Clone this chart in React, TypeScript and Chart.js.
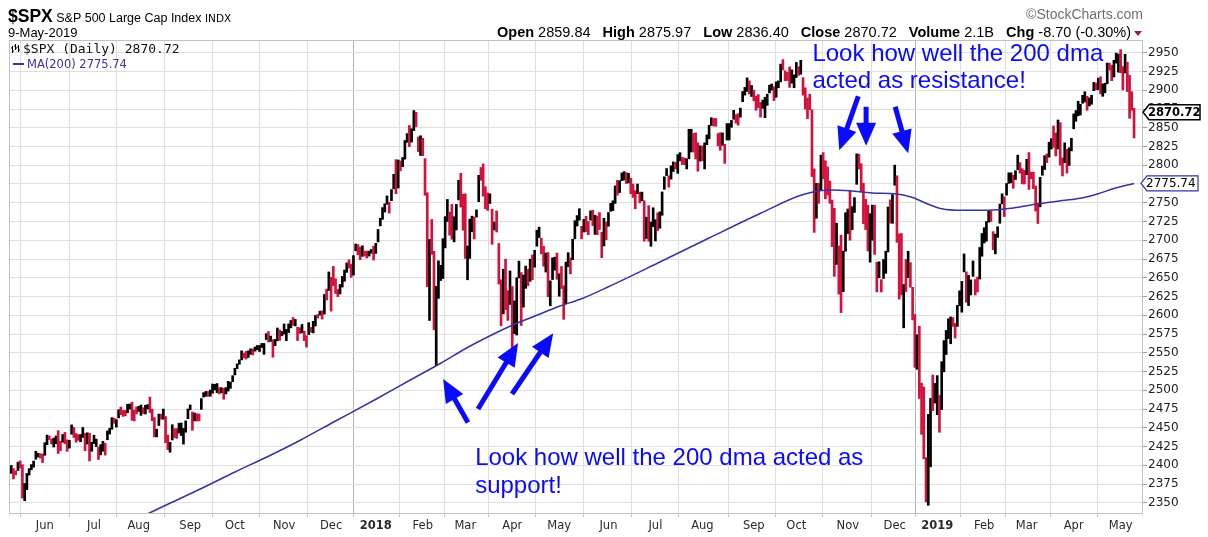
import React, { useEffect, useRef } from 'react';
import { Chart, registerables } from 'chart.js';

Chart.register(...registerables);

// ---------------- data ----------------
// trading days per month, May-2017 (partial) .. May-2019 (partial)
const monthLengths = [15, 22, 20, 23, 20, 22, 21, 20, 21, 19, 21, 21, 22, 21, 21, 23, 19, 23, 21, 19, 21, 19, 21, 21, 7];
const monthTickLabels = ['Jun', 'Jul', 'Aug', 'Sep', 'Oct', 'Nov', 'Dec', '2018', 'Feb', 'Mar', 'Apr', 'May', 'Jun', 'Jul', 'Aug', 'Sep', 'Oct', 'Nov', 'Dec', '2019', 'Feb', 'Mar', 'Apr', 'May'];
const yTickValues = [2350, 2375, 2400, 2425, 2450, 2475, 2500, 2525, 2550, 2575, 2600, 2625, 2650, 2675, 2700, 2725, 2750, 2775, 2800, 2825, 2850, 2875, 2900, 2925, 2950];

const closes = [
  2399.6, 2394.4, 2390.9, 2402.3, 2400.7, 2357.0, 2365.7, 2381.7, 2394.0, 2398.4, 2404.4, 2415.1, 2415.8, 2412.9, 2411.8,
  2430.1, 2439.1, 2436.1, 2429.3, 2433.1, 2433.8, 2431.8, 2429.4, 2440.4, 2437.9, 2432.5, 2433.2, 2453.5, 2437.0, 2435.6, 2434.5, 2438.3, 2439.1, 2419.4, 2440.7, 2419.7, 2423.4,
  2429.0, 2432.5, 2409.8, 2425.2, 2427.4, 2425.5, 2443.3, 2447.8, 2459.3, 2459.1, 2460.6, 2473.8, 2473.5, 2472.5, 2469.9, 2477.1, 2477.8, 2475.4, 2472.1, 2470.3,
  2476.3, 2477.6, 2472.2, 2476.8, 2480.9, 2474.9, 2474.0, 2438.2, 2441.3, 2466.0, 2464.6, 2468.1, 2430.0, 2425.6, 2428.4, 2452.5, 2444.0, 2438.9, 2443.1, 2444.2, 2446.3, 2457.6, 2471.7,
  2476.6, 2457.9, 2465.5, 2465.1, 2461.4, 2488.1, 2496.5, 2498.4, 2495.6, 2500.2, 2503.9, 2506.7, 2508.2, 2500.6, 2502.2, 2496.7, 2496.8, 2507.0, 2510.1, 2519.4,
  2529.1, 2534.6, 2537.7, 2552.1, 2549.3, 2544.7, 2550.6, 2555.2, 2550.9, 2553.2, 2557.6, 2559.4, 2561.3, 2562.1, 2575.2, 2565.0, 2569.1, 2557.2, 2560.4, 2581.1, 2572.8, 2575.3,
  2579.4, 2579.9, 2587.8, 2591.1, 2590.6, 2594.4, 2584.6, 2582.3, 2584.8, 2578.9, 2564.6, 2585.6, 2578.9, 2582.1, 2599.0, 2597.1, 2602.4, 2601.4, 2627.0, 2626.1, 2647.6,
  2642.2, 2639.4, 2629.6, 2629.3, 2637.0, 2651.5, 2660.0, 2664.1, 2662.9, 2652.0, 2675.8, 2690.2, 2681.5, 2679.3, 2684.6, 2683.3, 2680.5, 2682.6, 2687.5, 2673.6,
  2695.8, 2713.1, 2724.0, 2743.2, 2747.7, 2751.3, 2748.2, 2767.6, 2786.2, 2776.4, 2802.6, 2798.0, 2810.3, 2833.0, 2839.1, 2837.5, 2839.3, 2872.9, 2853.5, 2822.4, 2823.8,
  2822.0, 2762.1, 2648.9, 2695.1, 2681.7, 2581.0, 2619.6, 2656.0, 2662.9, 2698.6, 2731.2, 2732.2, 2716.3, 2701.3, 2704.0, 2747.3, 2779.6, 2744.3, 2713.8,
  2677.7, 2691.3, 2720.9, 2728.1, 2726.8, 2739.0, 2786.6, 2783.0, 2765.3, 2749.5, 2747.3, 2752.0, 2712.9, 2716.9, 2711.9, 2643.7, 2588.3, 2658.6, 2612.6, 2605.0, 2640.9,
  2581.9, 2614.5, 2644.7, 2662.8, 2604.5, 2613.2, 2656.9, 2642.2, 2664.0, 2656.3, 2677.8, 2706.4, 2708.6, 2693.1, 2670.1, 2670.3, 2634.6, 2639.4, 2666.9, 2669.9, 2648.1,
  2654.8, 2635.7, 2629.7, 2663.4, 2672.6, 2671.9, 2697.8, 2723.1, 2727.7, 2730.1, 2711.5, 2722.5, 2720.1, 2713.0, 2733.0, 2724.4, 2733.3, 2727.8, 2721.3, 2689.9, 2724.0, 2705.3,
  2734.6, 2746.9, 2748.8, 2772.4, 2770.4, 2779.0, 2782.0, 2786.9, 2775.6, 2782.5, 2779.7, 2773.9, 2762.6, 2767.3, 2749.8, 2754.9, 2717.1, 2723.1, 2699.6, 2716.3, 2718.4,
  2726.7, 2713.2, 2736.6, 2759.8, 2784.2, 2793.8, 2774.0, 2798.3, 2801.3, 2798.4, 2809.6, 2815.6, 2804.5, 2801.8, 2807.0, 2820.4, 2846.1, 2837.4, 2818.8, 2802.6, 2816.3,
  2813.4, 2827.2, 2840.4, 2850.4, 2858.5, 2857.7, 2853.6, 2833.3, 2821.9, 2840.0, 2818.4, 2840.7, 2850.1, 2857.1, 2863.0, 2861.8, 2857.0, 2874.7, 2896.7, 2897.5, 2914.0, 2901.1, 2901.5,
  2896.7, 2888.6, 2878.1, 2871.7, 2877.1, 2887.9, 2888.9, 2904.2, 2905.0, 2888.8, 2904.3, 2908.0, 2930.8, 2929.7, 2919.4, 2915.6, 2906.0, 2914.0, 2914.0,
  2924.6, 2923.4, 2925.5, 2901.6, 2885.6, 2884.4, 2880.3, 2785.7, 2728.4, 2767.1, 2750.8, 2809.9, 2809.2, 2768.8, 2767.8, 2755.9, 2740.7, 2656.1, 2705.6, 2658.7, 2641.3, 2682.6, 2711.7,
  2740.4, 2723.1, 2738.3, 2755.5, 2813.9, 2806.8, 2781.0, 2726.2, 2722.2, 2701.6, 2730.2, 2736.3, 2690.7, 2641.9, 2649.9, 2632.6, 2673.5, 2682.2, 2743.8, 2737.8, 2760.2,
  2790.4, 2700.1, 2696.0, 2633.1, 2637.7, 2636.8, 2651.1, 2650.5, 2600.0, 2545.9, 2546.2, 2507.0, 2467.4, 2416.6, 2351.1, 2467.7, 2488.8, 2485.7, 2506.9,
  2510.0, 2447.9, 2531.9, 2549.7, 2574.4, 2585.0, 2596.6, 2596.3, 2582.6, 2610.3, 2616.1, 2636.0, 2670.7, 2632.9, 2638.7, 2642.3, 2664.8, 2643.9, 2640.0, 2681.1, 2704.1,
  2706.5, 2724.9, 2737.7, 2731.6, 2706.1, 2707.9, 2709.8, 2744.7, 2753.0, 2745.7, 2775.6, 2779.8, 2784.7, 2774.9, 2792.7, 2796.1, 2793.9, 2792.4, 2784.5,
  2803.7, 2792.8, 2789.7, 2771.5, 2748.9, 2743.1, 2783.3, 2791.5, 2810.9, 2808.5, 2822.5, 2832.9, 2832.6, 2824.2, 2854.9, 2800.7, 2798.4, 2818.5, 2805.4, 2815.4, 2834.4,
  2867.2, 2867.2, 2873.4, 2879.4, 2892.7, 2895.8, 2878.2, 2888.2, 2888.3, 2907.4, 2905.6, 2907.1, 2900.5, 2905.0, 2908.0, 2933.7, 2927.3, 2926.2, 2939.9, 2943.0, 2945.8,
  2923.7, 2917.5, 2945.6, 2932.5, 2884.1, 2879.4, 2870.7,
];

const highs = [
  2399.7, 2395.5, 2392.4, 2404.1, 2405.8, 2400.8, 2375.7, 2389.1, 2395.5, 2400.9, 2405.6, 2418.7, 2416.0, 2415.3, 2415.0,
  2430.1, 2440.2, 2439.1, 2435.0, 2436.2, 2439.0, 2446.2, 2431.9, 2441.0, 2443.8, 2433.9, 2433.2, 2453.8, 2450.4, 2442.2, 2440.8, 2441.0, 2450.4, 2442.5, 2443.3, 2442.7, 2430.7,
  2440.0, 2434.8, 2424.3, 2427.6, 2432.0, 2429.3, 2445.8, 2449.3, 2463.5, 2462.8, 2460.9, 2474.0, 2477.6, 2473.1, 2473.0, 2481.2, 2481.7, 2484.0, 2473.5, 2477.9,
  2478.5, 2480.4, 2476.6, 2480.0, 2480.9, 2490.9, 2474.9, 2463.5, 2448.1, 2468.2, 2468.2, 2474.9, 2465.0, 2440.3, 2430.6, 2454.0, 2448.9, 2448.9, 2456.0, 2456.3, 2449.1, 2459.2, 2475.0,
  2480.4, 2471.0, 2469.6, 2468.6, 2468.4, 2488.9, 2496.8, 2498.4, 2498.4, 2500.2, 2508.3, 2507.8, 2508.9, 2503.5, 2503.5, 2502.5, 2503.5, 2511.8, 2510.8, 2519.4,
  2529.2, 2535.1, 2540.5, 2552.5, 2549.4, 2551.8, 2552.5, 2555.2, 2555.3, 2557.7, 2559.7, 2559.7, 2562.4, 2562.4, 2575.4, 2578.3, 2572.2, 2567.4, 2567.7, 2583.0, 2580.5, 2578.3,
  2588.4, 2581.1, 2588.4, 2593.0, 2597.0, 2594.4, 2584.0, 2583.3, 2587.7, 2578.9, 2572.8, 2590.1, 2583.8, 2591.9, 2599.7, 2600.9, 2605.4, 2606.0, 2627.7, 2634.9, 2657.7,
  2650.6, 2665.2, 2648.7, 2634.4, 2641.0, 2651.7, 2660.3, 2669.7, 2674.0, 2668.1, 2679.6, 2695.0, 2694.2, 2691.0, 2692.6, 2685.4, 2685.6, 2685.6, 2687.7, 2692.1,
  2695.9, 2714.4, 2729.3, 2743.5, 2748.5, 2759.1, 2750.8, 2767.6, 2787.9, 2807.5, 2807.0, 2805.8, 2810.3, 2833.0, 2842.2, 2853.0, 2848.6, 2872.9, 2870.6, 2837.8, 2839.3,
  2836.0, 2808.9, 2763.4, 2701.0, 2727.7, 2685.3, 2638.7, 2672.6, 2666.6, 2702.1, 2731.5, 2754.4, 2737.6, 2747.8, 2731.3, 2747.8, 2780.0, 2789.2, 2761.5,
  2761.9, 2692.3, 2728.1, 2732.1, 2731.0, 2740.5, 2786.6, 2797.0, 2801.9, 2771.4, 2763.0, 2761.9, 2741.4, 2724.2, 2739.1, 2695.7, 2647.3, 2661.4, 2674.8, 2632.7, 2659.1,
  2638.3, 2619.1, 2649.9, 2672.1, 2656.9, 2653.6, 2665.5, 2661.4, 2674.8, 2680.3, 2686.5, 2713.3, 2717.5, 2702.8, 2692.0, 2682.9, 2683.6, 2645.8, 2676.5, 2677.4, 2682.9,
  2655.3, 2665.0, 2639.3, 2670.9, 2683.4, 2676.3, 2701.3, 2726.1, 2732.9, 2742.1, 2718.6, 2727.8, 2732.0, 2725.1, 2739.2, 2739.9, 2733.3, 2732.0, 2736.9, 2710.7, 2729.3, 2724.3,
  2736.9, 2749.2, 2752.6, 2772.4, 2779.9, 2779.4, 2789.8, 2791.5, 2790.2, 2789.1, 2782.8, 2775.0, 2766.1, 2774.9, 2764.2, 2764.2, 2752.7, 2730.8, 2746.1, 2724.3, 2743.3,
  2727.3, 2736.6, 2737.8, 2764.4, 2784.6, 2795.6, 2785.9, 2799.2, 2804.5, 2803.9, 2814.2, 2816.8, 2810.5, 2809.7, 2808.6, 2848.0, 2848.0, 2842.4, 2843.2, 2829.9, 2825.8,
  2825.8, 2829.9, 2840.4, 2853.3, 2863.4, 2862.5, 2862.4, 2842.2, 2843.4, 2843.1, 2828.0, 2855.6, 2855.6, 2859.8, 2873.2, 2867.5, 2868.8, 2876.2, 2898.3, 2903.8, 2916.5, 2912.5, 2906.3,
  2900.2, 2892.1, 2894.2, 2883.8, 2886.9, 2890.7, 2894.7, 2906.8, 2908.3, 2904.7, 2911.2, 2912.4, 2934.8, 2940.9, 2926.0, 2923.8, 2931.1, 2927.2, 2920.5,
  2937.1, 2931.4, 2939.9, 2916.9, 2903.3, 2889.5, 2894.8, 2874.0, 2795.1, 2775.8, 2776.0, 2813.5, 2816.9, 2806.0, 2797.8, 2778.9, 2753.6, 2742.6, 2722.7, 2692.4, 2706.9, 2685.4, 2736.7,
  2741.7, 2766.3, 2744.8, 2756.8, 2815.2, 2814.8, 2802.0, 2776.0, 2754.6, 2746.8, 2735.4, 2746.8, 2746.8, 2670.7, 2671.3, 2647.5, 2674.4, 2685.4, 2744.3, 2753.8, 2760.9,
  2800.2, 2785.9, 2708.5, 2709.0, 2641.0, 2674.4, 2685.4, 2670.2, 2637.2, 2601.1, 2574.0, 2585.3, 2509.6, 2504.4, 2410.3, 2467.8, 2489.1, 2520.3, 2509.2,
  2519.5, 2493.1, 2538.1, 2566.2, 2579.8, 2595.3, 2597.8, 2597.0, 2589.3, 2613.1, 2632.6, 2645.1, 2681.8, 2657.9, 2653.2, 2647.2, 2672.4, 2647.6, 2650.9, 2690.4, 2709.0,
  2716.7, 2725.0, 2739.0, 2738.7, 2711.5, 2708.1, 2718.1, 2748.2, 2761.9, 2757.9, 2775.7, 2789.9, 2789.9, 2786.7, 2792.7, 2813.5, 2803.5, 2795.4, 2793.1,
  2808.0, 2816.9, 2790.8, 2790.7, 2772.4, 2749.5, 2784.0, 2798.9, 2812.7, 2815.0, 2830.7, 2835.4, 2852.4, 2843.1, 2860.3, 2856.8, 2809.8, 2829.9, 2821.2, 2823.3, 2836.0,
  2868.4, 2872.9, 2885.3, 2881.3, 2893.2, 2898.0, 2892.0, 2889.7, 2893.4, 2910.5, 2909.6, 2916.1, 2918.0, 2908.4, 2909.3, 2936.3, 2936.2, 2933.1, 2939.9, 2949.5, 2948.2,
  2954.1, 2931.7, 2947.9, 2937.3, 2920.0, 2898.0, 2875.97,
];

const lows = [
  2389.3, 2381.7, 2387.2, 2392.9, 2396.1, 2356.2, 2352.7, 2367.5, 2386.9, 2393.9, 2397.4, 2408.0, 2411.0, 2409.4, 2403.6,
  2413.3, 2427.4, 2434.3, 2428.3, 2424.3, 2428.7, 2415.7, 2419.4, 2430.7, 2428.7, 2418.5, 2422.9, 2441.4, 2437.0, 2430.7, 2433.2, 2431.3, 2437.0, 2419.4, 2428.3, 2405.7, 2418.7,
  2428.9, 2424.9, 2407.7, 2413.8, 2418.7, 2413.5, 2434.0, 2441.6, 2448.0, 2455.9, 2450.9, 2463.1, 2467.4, 2465.1, 2466.0, 2470.0, 2474.9, 2459.9, 2459.0, 2468.4,
  2471.8, 2466.5, 2468.9, 2468.4, 2475.0, 2470.3, 2459.4, 2437.8, 2437.8, 2453.0, 2461.4, 2461.4, 2430.0, 2420.7, 2417.4, 2433.7, 2436.9, 2435.8, 2442.9, 2439.7, 2428.2, 2444.0, 2462.1,
  2473.9, 2446.6, 2459.2, 2458.9, 2459.2, 2474.5, 2490.9, 2491.9, 2491.9, 2492.0, 2496.0, 2500.5, 2496.8, 2495.1, 2496.7, 2488.0, 2495.1, 2498.9, 2502.5, 2511.3,
  2520.4, 2528.9, 2534.7, 2540.5, 2543.0, 2541.5, 2543.8, 2547.9, 2547.0, 2552.1, 2554.1, 2551.7, 2557.0, 2547.9, 2567.6, 2564.3, 2565.1, 2544.0, 2559.4, 2565.9, 2566.4, 2572.6,
  2574.9, 2566.2, 2576.9, 2583.2, 2586.5, 2585.7, 2566.3, 2575.6, 2576.5, 2566.2, 2557.5, 2574.2, 2577.2, 2576.5, 2585.6, 2596.2, 2600.2, 2594.9, 2601.6, 2620.3, 2633.1,
  2605.5, 2639.4, 2629.1, 2624.8, 2628.4, 2637.6, 2645.3, 2657.2, 2662.9, 2650.6, 2653.6, 2685.9, 2680.7, 2674.0, 2678.6, 2678.9, 2676.3, 2678.9, 2682.7, 2673.6,
  2682.4, 2697.8, 2719.1, 2727.9, 2737.6, 2747.9, 2736.1, 2752.8, 2768.6, 2762.1, 2769.6, 2792.6, 2798.1, 2808.1, 2830.6, 2824.8, 2830.9, 2846.2, 2851.5, 2818.3, 2813.0,
  2812.7, 2760.0, 2638.2, 2593.1, 2681.3, 2580.6, 2532.7, 2622.5, 2646.3, 2648.9, 2689.8, 2725.1, 2706.8, 2701.3, 2697.8, 2713.7, 2753.8, 2744.2, 2713.4,
  2675.8, 2647.3, 2675.8, 2711.3, 2701.7, 2730.9, 2751.5, 2779.9, 2758.7, 2741.9, 2739.8, 2749.0, 2694.6, 2713.7, 2711.0, 2641.6, 2585.9, 2601.8, 2607.4, 2593.1, 2614.4,
  2553.8, 2575.5, 2573.6, 2649.8, 2586.3, 2610.8, 2635.9, 2639.3, 2645.3, 2647.3, 2664.1, 2692.1, 2703.6, 2681.8, 2665.4, 2657.6, 2624.7, 2612.7, 2647.6, 2660.2, 2648.0,
  2625.4, 2635.6, 2594.6, 2615.3, 2664.7, 2655.2, 2674.1, 2701.9, 2719.0, 2726.8, 2701.9, 2711.0, 2711.3, 2707.4, 2726.9, 2719.3, 2707.8, 2707.4, 2714.3, 2676.8, 2692.4, 2700.7,
  2718.7, 2738.5, 2739.5, 2749.2, 2760.2, 2763.6, 2779.4, 2780.4, 2775.6, 2776.5, 2761.9, 2757.1, 2741.9, 2762.1, 2749.8, 2752.7, 2698.7, 2702.4, 2698.7, 2692.0, 2718.0,
  2699.0, 2712.7, 2716.0, 2733.3, 2767.9, 2786.2, 2770.8, 2781.5, 2791.7, 2795.1, 2789.2, 2805.8, 2800.9, 2800.9, 2795.1, 2808.6, 2817.7, 2817.7, 2808.3, 2792.0, 2805.5,
  2805.9, 2795.1, 2827.4, 2835.2, 2853.1, 2852.3, 2851.9, 2825.8, 2819.9, 2826.6, 2802.5, 2833.7, 2833.7, 2850.6, 2861.3, 2856.1, 2853.4, 2864.1, 2884.7, 2893.5, 2898.4, 2895.0, 2891.7,
  2885.9, 2873.3, 2876.9, 2864.1, 2875.9, 2863.5, 2879.9, 2896.4, 2900.2, 2886.2, 2890.7, 2903.3, 2911.2, 2927.1, 2912.6, 2913.0, 2903.8, 2909.5, 2903.3,
  2917.0, 2919.8, 2921.4, 2893.5, 2874.9, 2862.1, 2874.0, 2784.9, 2710.5, 2729.4, 2749.2, 2766.9, 2781.8, 2755.2, 2760.3, 2749.2, 2691.4, 2651.9, 2667.8, 2628.2, 2603.5, 2631.6, 2685.4,
  2708.9, 2700.1, 2714.0, 2737.1, 2774.6, 2795.0, 2764.2, 2722.0, 2714.2, 2685.8, 2670.8, 2700.0, 2681.1, 2631.1, 2649.9, 2631.1, 2649.0, 2655.9, 2684.4, 2722.9, 2722.6,
  2773.4, 2697.2, 2621.5, 2627.0, 2583.2, 2631.6, 2650.3, 2637.3, 2593.8, 2530.5, 2528.0, 2489.0, 2441.2, 2408.6, 2351.1, 2346.6, 2397.9, 2472.9, 2482.9,
  2467.5, 2444.0, 2474.3, 2524.6, 2547.6, 2568.9, 2562.0, 2585.1, 2569.6, 2585.1, 2612.8, 2604.1, 2657.8, 2617.3, 2612.9, 2627.0, 2651.9, 2627.0, 2631.1, 2648.3, 2678.7,
  2696.4, 2698.7, 2724.1, 2725.0, 2687.3, 2681.8, 2703.8, 2722.7, 2748.6, 2731.6, 2760.2, 2775.8, 2776.6, 2769.3, 2781.0, 2794.2, 2789.5, 2775.1, 2775.1,
  2787.4, 2767.7, 2782.0, 2768.7, 2739.0, 2722.3, 2744.5, 2786.7, 2794.3, 2803.5, 2810.8, 2821.7, 2823.8, 2812.4, 2821.7, 2800.1, 2785.7, 2803.5, 2789.5, 2799.8, 2819.2,
  2848.6, 2858.6, 2865.9, 2867.0, 2882.6, 2884.3, 2873.3, 2879.1, 2881.3, 2899.4, 2900.7, 2900.7, 2895.0, 2891.9, 2896.5, 2908.5, 2926.9, 2912.8, 2917.6, 2936.2, 2924.1,
  2923.4, 2900.5, 2923.0, 2898.2, 2862.6, 2873.3, 2836.4,
];

// 200-day moving average at these trading-day indices
const maIdx = [58, 70, 85, 100, 115, 129, 145, 163, 178, 192, 204, 215, 225, 235, 245, 255, 267, 290, 312, 335, 352, 358, 366, 375, 385, 395, 403, 410, 416, 425, 437, 448, 460, 470, 478, 486, 493, 502];
const maValues = [2331, 2348, 2369, 2391, 2412, 2433, 2459, 2488, 2513, 2536, 2557, 2574, 2588, 2600, 2612, 2622, 2638, 2671, 2703, 2736, 2759, 2764, 2767, 2766, 2763, 2762, 2757, 2748, 2742, 2740, 2740, 2743, 2749, 2753, 2756, 2762, 2769, 2775.74];

// header / legend values
const tickerSymbol = '$SPX';
const tickerName = 'S&P 500 Large Cap Index';
const exchange = 'INDX';
const quoteDate = '9-May-2019';
const quoteOpen = '2859.84';
const quoteHigh = '2875.97';
const quoteLow = '2836.40';
const quoteClose = '2870.72';
const quoteVolume = '2.1B';
const quoteChg = '-8.70 (-0.30%)';
const lastClose = 2870.72;
const lastMA = 2775.74;

// annotations (trading-day index, price)
const supportArrows = [
  [204.2, 2457, 193.1, 2515],
  [208.7, 2475, 226.6, 2563],
  [223.9, 2495, 242.3, 2576],
];
const resistanceArrows = [
  [378.7, 2892, 370.2, 2820],
  [382.2, 2878, 382.2, 2826],
  [395.2, 2878, 401.0, 2816],
];
const resistanceText = ['Look how well the 200 dma', 'acted as resistance!'];
const supportText = ['Look how well the 200 dma acted as', 'support!'];

// ---------------- helpers ----------------
const RED = '#d5103c';
const BLUE = '#0a0aff';
const MA_COLOR = '#3434a2';
const ARIAL = '"Liberation Sans", Arial, sans-serif';
const VERDANA = '"DejaVu Sans", Verdana, sans-serif';

type Run = { text: string; font: string; color: string };

function runsWidth(ctx: CanvasRenderingContext2D, runs: Run[]) {
  let w = 0;
  for (const r of runs) {
    ctx.font = r.font;
    w += ctx.measureText(r.text).width;
  }
  return w;
}
function drawRuns(ctx: CanvasRenderingContext2D, runs: Run[], x: number, y: number) {
  let cx = x;
  for (const r of runs) {
    ctx.font = r.font;
    ctx.fillStyle = r.color;
    ctx.fillText(r.text, cx, y);
    cx += ctx.measureText(r.text).width;
  }
  return cx;
}
function drawArrow(ctx: CanvasRenderingContext2D, x1: number, y1: number, x2: number, y2: number, color: string) {
  const ang = Math.atan2(y2 - y1, x2 - x1);
  const headLen = 23;
  const halfW = 10;
  const cos = Math.cos(ang);
  const sin = Math.sin(ang);
  const bx = x2 - headLen * cos;
  const by = y2 - headLen * sin;
  ctx.strokeStyle = color;
  ctx.fillStyle = color;
  ctx.lineWidth = 5;
  ctx.lineCap = 'butt';
  ctx.beginPath();
  ctx.moveTo(x1, y1);
  ctx.lineTo(bx + 2 * cos, by + 2 * sin);
  ctx.stroke();
  ctx.beginPath();
  ctx.moveTo(x2, y2);
  ctx.lineTo(bx - halfW * sin, by + halfW * cos);
  ctx.lineTo(bx + halfW * sin, by - halfW * cos);
  ctx.closePath();
  ctx.fill();
}
function drawTag(ctx: CanvasRenderingContext2D, x0: number, y: number, text: string, font: string, stroke: string, lw: number) {
  const h = 7.5;
  ctx.beginPath();
  ctx.moveTo(x0, y);
  ctx.lineTo(x0 + 6, y - h);
  ctx.lineTo(x0 + 57, y - h);
  ctx.lineTo(x0 + 57, y + h);
  ctx.lineTo(x0 + 6, y + h);
  ctx.closePath();
  ctx.fillStyle = '#fff';
  ctx.fill();
  ctx.strokeStyle = stroke;
  ctx.lineWidth = lw;
  ctx.stroke();
  ctx.font = font;
  ctx.fillStyle = '#000';
  ctx.textBaseline = 'middle';
  ctx.fillText(text, x0 + 5, y + 0.5);
  ctx.textBaseline = 'alphabetic';
}

const monthStarts: number[] = [];
{
  let acc = 0;
  for (let i = 0; i < monthLengths.length; i++) {
    monthStarts.push(acc);
    acc += monthLengths[i];
  }
}
const tickIdx = monthStarts.slice(1);
const labelByIdx = new Map<number, string>();
tickIdx.forEach((v, i) => labelByIdx.set(v, monthTickLabels[i]));
const isYear = (v: number) => /^20/.test(labelByIdx.get(v) || '');

const overlayPlugin = {
  id: 'overlay',
  beforeDraw(chart: any) {
    const ctx = chart.ctx as CanvasRenderingContext2D;
    ctx.save();
    ctx.fillStyle = '#fff';
    ctx.fillRect(0, 0, chart.width, chart.height);
    ctx.restore();
  },
  afterDraw(chart: any) {
    const ctx = chart.ctx as CanvasRenderingContext2D;
    const a = chart.chartArea;
    const xs = chart.scales.x;
    const ys = chart.scales.y;
    ctx.save();

    // frame
    ctx.strokeStyle = '#c2c2c2';
    ctx.lineWidth = 1;
    ctx.strokeRect(a.left + 0.5, a.top + 0.5, a.right - a.left - 1, a.bottom - a.top - 1);

    // header
    ctx.textBaseline = 'alphabetic';
    drawRuns(ctx, [
      { text: tickerSymbol, font: `bold 17.5px ${ARIAL}`, color: '#000' },
      { text: ' ' + tickerName + ' ', font: `12.5px ${ARIAL}`, color: '#000' },
      { text: exchange, font: `10.5px ${VERDANA}`, color: '#000' },
    ], 8, 22);
    ctx.font = `13px ${ARIAL}`;
    ctx.fillStyle = '#000';
    ctx.fillText(quoteDate, 8, 37);

    const B = `bold 14.5px ${ARIAL}`;
    const R = `14.5px ${ARIAL}`;
    const gap = '   ';
    const runs: Run[] = [
      { text: 'Open', font: B, color: '#000' }, { text: ' ' + quoteOpen + gap, font: R, color: '#000' },
      { text: 'High', font: B, color: '#000' }, { text: ' ' + quoteHigh + gap, font: R, color: '#000' },
      { text: 'Low', font: B, color: '#000' }, { text: ' ' + quoteLow + gap, font: R, color: '#000' },
      { text: 'Close', font: B, color: '#000' }, { text: ' ' + quoteClose + gap, font: R, color: '#000' },
      { text: 'Volume', font: B, color: '#000' }, { text: ' ' + quoteVolume + gap, font: R, color: '#000' },
      { text: 'Chg', font: B, color: '#000' }, { text: ' ' + quoteChg, font: R, color: '#000' },
    ];
    const rw = runsWidth(ctx, runs);
    drawRuns(ctx, runs, 1131 - rw, 37);
    ctx.fillStyle = '#a3173c';
    ctx.beginPath();
    ctx.moveTo(1134, 31);
    ctx.lineTo(1142, 31);
    ctx.lineTo(1138, 36);
    ctx.closePath();
    ctx.fill();

    ctx.font = `14px ${ARIAL}`;
    ctx.fillStyle = '#707070';
    ctx.textAlign = 'right';
    ctx.fillText('\u00A9StockCharts.com', 1143, 19);
    ctx.textAlign = 'left';

    // legend
    ctx.strokeStyle = '#000';
    ctx.lineWidth = 1;
    const bars = [[12.5, 46, 53], [15.5, 44, 50], [18.5, 45, 52]];
    for (const [bx, t, b] of bars) {
      ctx.beginPath();
      ctx.moveTo(bx, t); ctx.lineTo(bx, b);
      ctx.moveTo(bx - 1.5, t + 2); ctx.lineTo(bx, t + 2);
      ctx.moveTo(bx, b - 2); ctx.lineTo(bx + 1.5, b - 2);
      ctx.stroke();
    }
    ctx.font = `13px "DejaVu Sans Mono", monospace`;
    ctx.fillStyle = '#111';
    ctx.fillText(`${tickerSymbol} (Daily) ${quoteClose}`, 23, 53);
    ctx.fillStyle = MA_COLOR;
    ctx.fillRect(13, 63, 11, 2);
    ctx.font = `11.5px ${VERDANA}`;
    ctx.fillText(`MA(200) ${lastMA.toFixed(2)}`, 27, 68);

    // annotations
    const px = (i: number) => xs.getPixelForValue(i);
    const py = (v: number) => ys.getPixelForValue(v);
    for (const [i1, v1, i2, v2] of [...supportArrows, ...resistanceArrows]) {
      drawArrow(ctx, px(i1), py(v1), px(i2), py(v2), BLUE);
    }
    ctx.font = `24px ${ARIAL}`;
    ctx.fillStyle = BLUE;
    ctx.fillText(resistanceText[0], px(358.2), py(2939));
    ctx.fillText(resistanceText[1], px(358.2), py(2903));
    ctx.fillText(supportText[0], px(207.4), py(2400));
    ctx.fillText(supportText[1], px(207.4), py(2363.5));

    // price tags on the axis
    drawTag(ctx, a.right, py(lastClose), lastClose.toFixed(2), `bold 11.5px ${VERDANA}`, '#000', 1.5);
    drawTag(ctx, a.right - 2, py(lastMA), lastMA.toFixed(2), `12px ${VERDANA}`, MA_COLOR, 1.2);

    ctx.restore();
  },
};

export default function App() {
  const canvasRef = useRef<HTMLCanvasElement | null>(null);

  useEffect(() => {
    document.body.style.margin = '0';
    const canvas = canvasRef.current;
    if (!canvas) return;

    const barData = closes.map((c, i) => ({ x: i, y: [lows[i], highs[i]] }));
    const barColors = closes.map((c, i) => (i > 0 && c < closes[i - 1] ? RED : '#000'));
    const maData = maIdx.map((x, i) => ({ x, y: maValues[i] }));

    const chart = new Chart(canvas, {
      type: 'bar',
      data: {
        datasets: [
          {
            type: 'line',
            data: maData as any,
            borderColor: MA_COLOR,
            borderWidth: 1.5,
            pointRadius: 0,
            cubicInterpolationMode: 'monotone',
            order: 0,
          } as any,
          {
            type: 'bar',
            data: barData as any,
            backgroundColor: barColors,
            barThickness: 2,
            order: 1,
          } as any,
        ],
      },
      options: {
        responsive: false,
        animation: false,
        devicePixelRatio: 1,
        events: [],
        layout: { padding: { left: 9, top: 40, right: 0, bottom: 0 } },
        plugins: {
          legend: { display: false },
          tooltip: { enabled: false },
        },
        scales: {
          x: {
            type: 'linear',
            min: -1,
            max: 506,
            offset: false,
            afterBuildTicks: (s: any) => {
              s.ticks = tickIdx.map((v) => ({ value: v }));
            },
            afterFit: (s: any) => {
              s.height = 23;
            },
            ticks: {
              autoSkip: false,
              maxRotation: 0,
              padding: 2,
              color: '#2a2a2a',
              font: (c: any) => ({ family: VERDANA, size: 11.5, weight: c.tick && isYear(c.tick.value) ? 'bold' : 'normal' }),
              callback: (v: any) => labelByIdx.get(Number(v)) || '',
            },
            grid: {
              color: (c: any) => (c.tick && isYear(c.tick.value) ? '#b4b4b4' : '#dedede'),
              tickColor: '#c8c8c8',
              tickLength: 3,
              lineWidth: 1,
            },
            border: { display: false },
          },
          y: {
            type: 'linear',
            position: 'right',
            min: 2335,
            max: 2967,
            afterBuildTicks: (s: any) => {
              s.ticks = yTickValues.map((v) => ({ value: v }));
            },
            afterFit: (s: any) => {
              s.width = 65;
            },
            ticks: {
              padding: 1,
              color: '#222',
              font: { family: VERDANA, size: 12 },
              callback: (v: any) => String(v),
            },
            grid: {
              color: '#e0e0e0',
              tickColor: '#9a9a9a',
              tickLength: 4,
              lineWidth: 1,
            },
            border: { display: false },
          },
        },
      } as any,
      plugins: [overlayPlugin],
    });

    return () => chart.destroy();
  }, []);

  return (
    <div style={{ position: 'absolute', left: 0, top: 0, width: 1208, height: 537 }}>
      <canvas ref={canvasRef} width={1208} height={537} style={{ width: 1208, height: 537, display: 'block' }} />
    </div>
  );
}
